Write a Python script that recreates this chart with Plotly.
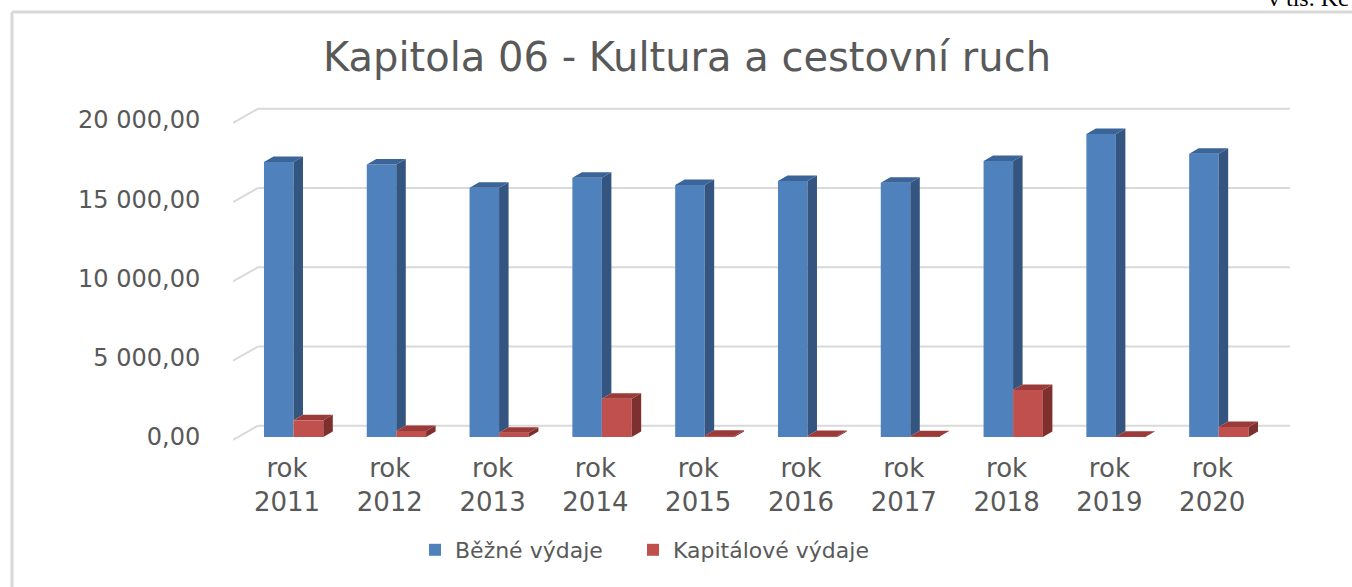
import plotly.graph_objects as go

# data (tis. Kč)
roky = ["rok<br>2011", "rok<br>2012", "rok<br>2013", "rok<br>2014", "rok<br>2015",
        "rok<br>2016", "rok<br>2017", "rok<br>2018", "rok<br>2019", "rok<br>2020"]
bezne = [17350, 17200, 15730, 16360, 15900, 16150, 16040, 17410, 19120, 17870]
kapitalove = [1050, 380, 270, 2420, 80, 60, 50, 2970, 20, 630]
osa_y = [0, 5000, 10000, 15000, 20000]
osa_y_text = ["0,00", "5 000,00", "10 000,00", "15 000,00", "20 000,00"]

# pixel scale of the axes (used for the fake 3D depth)
UX = 102.8            # px per category
UY = 317 / 20000      # px per unit
dx = 9.5 / UX
dy = 5.5 / UY

pos = list(range(len(roky)))
b_off, b_w = -0.224, 0.287
r_off, r_w = 0.063, 0.29

fig = go.Figure()

fig.add_trace(go.Bar(x=pos, y=bezne, offset=b_off, width=b_w, name="Běžné výdaje",
                     legendwidth=173, marker=dict(color="#4F81BD", line=dict(width=0))))
fig.add_trace(go.Bar(x=pos, y=kapitalove, offset=r_off, width=r_w, name="Kapitálové výdaje",
                     marker=dict(color="#C0504D", line=dict(width=0))))


def plochy(x0, x1, v, spodek):
    # top and side face of one bar
    top_x = [x0, x0 + dx, x1 + dx, x1, x0, None]
    top_y = [v, v + dy, v + dy, v, v, None]
    side_x = [x1, x1 + dx, x1 + dx, x1, x1, None]
    side_y = [spodek, spodek + dy, v + dy, v, spodek, None]
    return top_x, top_y, side_x, side_y


faces = {"bt": [[], []], "bs": [[], []], "rt": [[], []], "rs": [[], []]}
for i in pos:
    bx0, bx1 = i + b_off, i + b_off + b_w
    rx0, rx1 = i + r_off, i + r_off + r_w
    tx, ty, sx, sy = plochy(bx0, bx1, bezne[i], kapitalove[i])
    faces["bt"][0] += tx; faces["bt"][1] += ty
    faces["bs"][0] += sx; faces["bs"][1] += sy
    tx, ty, sx, sy = plochy(rx0, rx1, kapitalove[i], 0)
    faces["rt"][0] += tx; faces["rt"][1] += ty
    faces["rs"][0] += sx; faces["rs"][1] += sy

barvy = {"bs": "#34557F", "bt": "#3B6499", "rs": "#7D302E", "rt": "#9B3B39"}
for k in ["bs", "bt", "rs", "rt"]:
    fig.add_trace(go.Scatter(x=faces[k][0], y=faces[k][1], mode="lines", fill="toself",
                             fillcolor=barvy[k], line=dict(width=0, color=barvy[k]),
                             showlegend=False, hoverinfo="skip"))

# back wall gridlines with the floor diagonals
x_left, x_right = (233 - 287) / UX, (1290 - 287) / UX
x_back = (258 - 287) / UX
back_dy = 11.3 / UY
front_dy = -3 / UY
for v in osa_y:
    fig.add_shape(type="line", x0=x_back, x1=x_right, y0=v + back_dy, y1=v + back_dy,
                  line=dict(color="#D9D9D9", width=2), layer="below")
    fig.add_shape(type="line", x0=x_left, x1=x_back, y0=v + front_dy, y1=v + back_dy,
                  line=dict(color="#D9D9D9", width=2), layer="below")


# pixel -> paper coords (plot area is 233..1290 x 100..450)
def px_x(p):
    return (p - 233) / 1057


def px_y(p):
    return (450 - p) / 350


# chart border (left and top)
fig.add_shape(type="line", xref="paper", yref="paper", x0=px_x(12), x1=px_x(1370),
              y0=px_y(12), y1=px_y(12), line=dict(color="#D9D9D9", width=3))
fig.add_shape(type="line", xref="paper", yref="paper", x0=px_x(12), x1=px_x(12),
              y0=px_y(12), y1=px_y(610), line=dict(color="#D9D9D9", width=3))

fig.add_annotation(text="v tis. Kč", xref="paper", yref="paper", x=px_x(1266), y=px_y(-2),
                   xanchor="left", yanchor="middle", showarrow=False,
                   font=dict(family="Liberation Serif", size=24, color="#000000"))

fig.update_layout(
    width=1352, height=587,
    margin=dict(l=233, r=1352 - 1290, t=100, b=587 - 450),
    paper_bgcolor="white", plot_bgcolor="white",
    font=dict(family="DejaVu Sans", color="#595959"),
    title=dict(text="Kapitola 06 - Kultura a cestovní ruch", xref="container", yref="container",
               x=687 / 1352, y=1 - 57 / 587, xanchor="center", yanchor="middle",
               font=dict(size=40, color="#595959")),
    barmode="overlay",
    showlegend=True,
    legend=dict(orientation="h", xref="container", yref="container", x=415 / 1352,
                y=1 - 550 / 587, xanchor="left", yanchor="middle",
                font=dict(size=22, color="#595959"), bgcolor="rgba(0,0,0,0)"),
    xaxis=dict(range=[x_left, x_right], tickvals=pos, ticktext=roky, showgrid=False,
               zeroline=False, showline=False, ticks="",
               tickfont=dict(size=26, color="#595959"), fixedrange=True),
    yaxis=dict(range=[-(450 - 437) / UY, (437 - 100) / UY], tickvals=osa_y, ticktext=osa_y_text,
               showgrid=False, zeroline=False, showline=False,
               ticks="outside", ticklen=27, tickcolor="rgba(0,0,0,0)",
               tickfont=dict(size=24, color="#595959"), fixedrange=True),
)

# page body has a default 8px margin, drop it so the figure sits at 0,0
fig.write_html("out.html", config={"displayModeBar": False},
               post_script="document.body.style.margin = '0';")
